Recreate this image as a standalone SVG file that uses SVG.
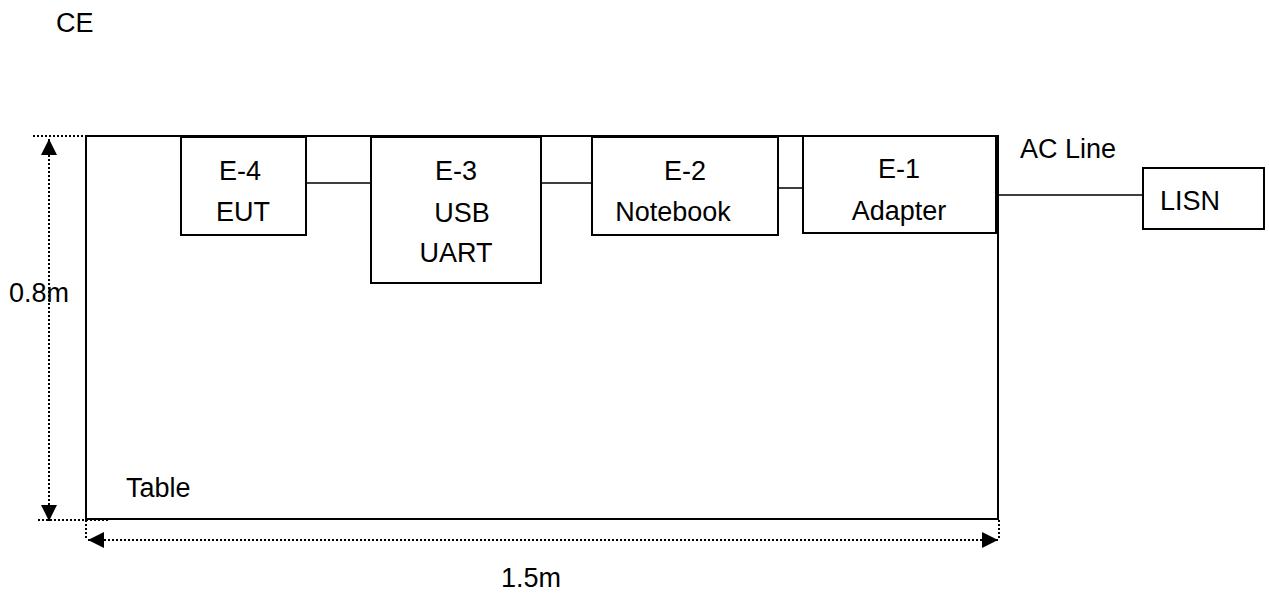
<svg xmlns="http://www.w3.org/2000/svg" width="1269" height="594" viewBox="0 0 1269 594">
<defs>
<style>
text{font-family:"Liberation Sans",Arial,sans-serif;font-size:27px;fill:#000}
.box{fill:#fff;stroke:#000;stroke-width:2}
.ln{stroke:#000;stroke-width:1.5;fill:none}
.dot{stroke:#000;stroke-width:2;stroke-dasharray:2 2;fill:none}
</style>
<marker id="ah" viewBox="0 0 10 10" refX="10" refY="5" markerWidth="16" markerHeight="16" markerUnits="userSpaceOnUse" orient="auto-start-reverse"><path d="M0,0L10,5L0,10Z" fill="#000"/></marker>
</defs>
<rect width="1269" height="594" fill="#fff"/>
<text x="56" y="32">CE</text>
<g id="table"><rect class="box" x="86" y="136" width="912" height="383"/><text x="126" y="497">Table</text></g>
<g id="dims">
<path class="dot" d="M33,136H103M38,520H108M86,520V540M999,520V540"/>
<path class="dot" d="M49,139V521" marker-start="url(#ah)" marker-end="url(#ah)"/>
<path class="dot" d="M88,540H998" marker-start="url(#ah)" marker-end="url(#ah)"/>
<text x="9" y="302">0.8m</text>
<text x="501" y="587">1.5m</text>
</g>
<g id="connectors">
<path class="ln" d="M306,183H371M541,183H592M778,188H803M998,195H1143"/>
<text x="1020" y="158">AC Line</text>
</g>
<g id="e4"><rect class="box" x="181" y="137" width="125" height="98"/><text x="240" y="180" text-anchor="middle">E-4</text><text x="243" y="221" text-anchor="middle">EUT</text></g>
<g id="e3"><rect class="box" x="371" y="137" width="170" height="146"/><text x="456" y="180" text-anchor="middle">E-3</text><text x="462" y="222" text-anchor="middle">USB</text><text x="456" y="262" text-anchor="middle">UART</text></g>
<g id="e2"><rect class="box" x="592" y="137" width="186" height="98"/><text x="685" y="180" text-anchor="middle">E-2</text><text x="673" y="221" text-anchor="middle">Notebook</text></g>
<g id="e1"><rect class="box" x="803" y="136" width="193" height="97"/><text x="899" y="178" text-anchor="middle">E-1</text><text x="899" y="220" text-anchor="middle">Adapter</text></g>
<g id="lisn"><rect class="box" x="1143" y="168" width="121" height="61"/><text x="1160" y="210">LISN</text></g>
</svg>
